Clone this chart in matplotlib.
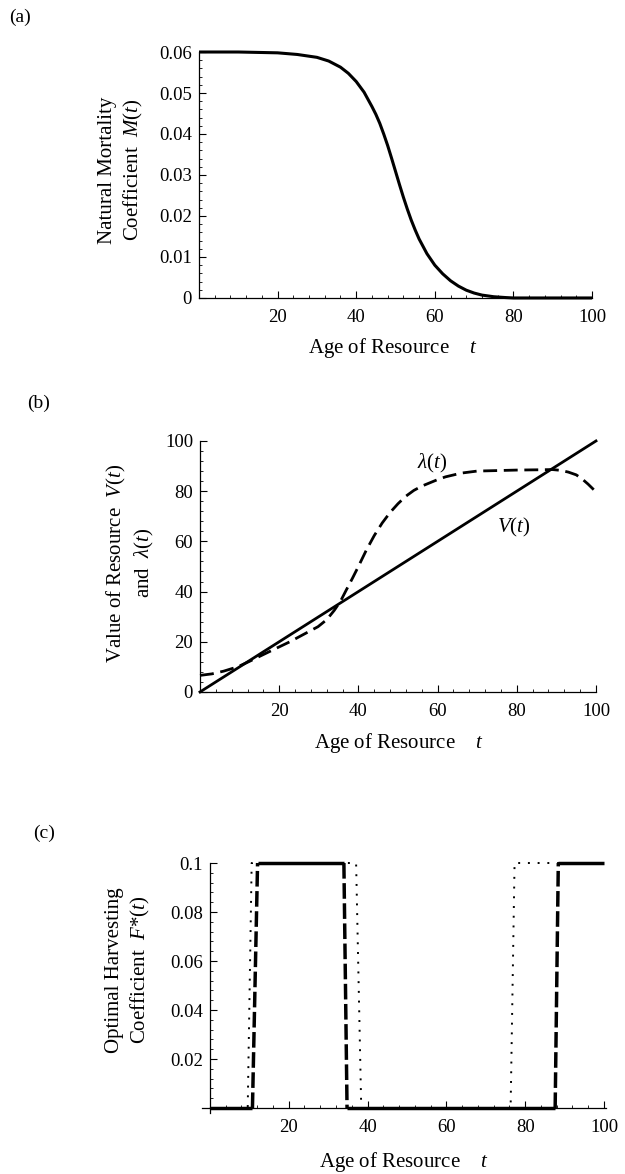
import numpy as np
import matplotlib
matplotlib.use('Agg')
import matplotlib.pyplot as plt
from matplotlib.ticker import MultipleLocator

plt.rcParams['font.family'] = ['Liberation Serif', 'DejaVu Serif']
plt.rcParams['mathtext.fontset'] = 'custom'
plt.rcParams['mathtext.rm'] = 'Liberation Serif'
plt.rcParams['mathtext.it'] = 'Liberation Serif:italic'

# (a) natural mortality M(t)
age_a = [0, 10, 20, 25, 30, 33, 36, 38, 40, 42, 44, 45, 46, 47, 48, 49, 50, 51, 52, 53,
         54, 55, 56, 58, 60, 62, 64, 66, 68, 70, 72, 75, 78, 80, 90, 100]
mort = [0.06, 0.06, 0.0598, 0.0594, 0.0587, 0.0578, 0.0563, 0.0548, 0.0528, 0.0502, 0.0467,
        0.0448, 0.0426, 0.0400, 0.0372, 0.0341, 0.0309, 0.0277, 0.0246, 0.0217,
        0.0190, 0.0166, 0.0144, 0.0108, 0.0080, 0.0059, 0.0042, 0.0029, 0.0019, 0.0012,
        0.0007, 0.0003, 0.0001, 0.0, 0.0, 0.0]

# (b) value V(t) and shadow price lambda(t)
age_v = [0, 100]
value = [0, 100]
age_l = [0, 3, 6, 9.5, 12.5, 15.6, 19, 22.7, 26, 29.8, 32, 33.9, 35.5, 36.9, 38.5, 40, 42,
         44, 46, 48, 50, 52, 54, 56, 58, 60, 62, 66, 70, 75, 80, 85, 89, 91, 93, 95,
         96.4, 98, 100]
lam = [6.6, 7.2, 8.3, 10, 12.2, 14.6, 17.2, 20, 22.8, 26, 28.8, 32.5, 36.2, 40.5, 45.3, 50,
       56.5, 62.3, 67.3, 71.5, 75, 78, 80.3, 82, 83.3, 84.6, 85.7, 87.2, 88, 88.2, 88.4,
       88.5, 88.6, 88.3, 87.6, 86.5, 85, 82.8, 79.7]

# (c) optimal harvesting F*(t), two cases
age_dash = [0, 10.8, 12.1, 34.0, 34.8, 87.6, 88.4, 100]
f_dash = [0, 0, 0.1, 0.1, 0, 0, 0.1, 0.1]
age_dot = [0, 9.6, 10.6, 37.1, 38.4, 76.3, 77.3, 100]
f_dot = [0, 0, 0.1, 0.1, 0, 0, 0.1, 0.1]

x_ticks = [20, 40, 60, 80, 100]
a_yticks = [0, 0.01, 0.02, 0.03, 0.04, 0.05, 0.06]
a_ylabels = ['0', '0.01', '0.02', '0.03', '0.04', '0.05', '0.06']
b_yticks = [0, 20, 40, 60, 80, 100]
c_yticks = [0.02, 0.04, 0.06, 0.08, 0.1]
c_ylabels = ['0.02', '0.04', '0.06', '0.08', '0.1']

FS = 13.5
LFS = 15

fig = plt.figure(figsize=(6.25, 11.74), dpi=100)


def style(ax, ymin_step):
    for s in ['top', 'right']:
        ax.spines[s].set_visible(False)
    for s in ['left', 'bottom']:
        ax.spines[s].set_linewidth(0.9)
    ax.xaxis.set_minor_locator(MultipleLocator(4))
    ax.yaxis.set_minor_locator(MultipleLocator(ymin_step))
    ax.tick_params(which='major', direction='in', length=5, width=0.8, labelsize=FS, pad=5)
    ax.tick_params(which='minor', direction='in', length=2.5, width=0.6)
    ax.tick_params(axis='x', which='major', pad=8)
    ax.set_xticks(x_ticks)
    ax.set_xticklabels([str(v) for v in x_ticks])


# ---- (a)
ax1 = fig.add_axes([0.3184, 0.7462, 0.6288, 0.2095])
ax1.plot(age_a, mort, color='black', lw=2.2, clip_on=False, solid_capstyle='butt')
ax1.set_xlim(0, 100)
ax1.set_ylim(0, 0.06)
style(ax1, 0.002)
ax1.set_yticks(a_yticks)
ax1.set_yticklabels(a_ylabels)

# ---- (b)
ax2 = fig.add_axes([0.32, 0.4106, 0.6336, 0.2138])
ax2.plot(age_v, value, color='black', lw=2.0, clip_on=False)
ax2.plot(age_l, lam, color='black', lw=2.0, linestyle=(0, (5, 2.4)), clip_on=False)
ax2.set_xlim(0, 100)
ax2.set_ylim(0, 100)
style(ax2, 4)
ax2.set_yticks(b_yticks)
ax2.set_yticklabels([str(v) for v in b_yticks])
ax2.text(58.6, 91, r'$\lambda(t)$', fontsize=LFS, ha='center', va='center')
ax2.text(79.3, 65.7, r'$V(t)$', fontsize=LFS, ha='center', va='center')

# ---- (c)
ax3 = fig.add_axes([0.3232, 0.052, 0.6464, 0.2129])
ad = np.array(age_dash)
fd = np.array(f_dash)
for i in range(len(ad) - 1):
    flat = fd[i] == fd[i + 1]
    ax3.plot(ad[i:i + 2], fd[i:i + 2], color='black', lw=2.5,
             linestyle='-' if flat else (0, (4.5, 1.3)), clip_on=False,
             solid_capstyle='butt', zorder=3)
ax3.plot(age_dot, f_dot, color='black', lw=1.4, linestyle=(0, (1, 4)), clip_on=False, zorder=4)
ax3.set_xlim(-2, 100.5)
ax3.set_ylim(-0.002, 0.1)
ax3.spines['left'].set_position(('data', 0))
ax3.spines['bottom'].set_position(('data', 0))
style(ax3, 0.004)
ax3.set_yticks(c_yticks)
ax3.set_yticklabels(c_ylabels)

# axis titles
fig.text(0.195, 0.855, 'Natural Mortality\nCoefficient  $M(t)$', rotation=90,
         ha='center', va='center', fontsize=LFS, linespacing=1.3)
fig.text(0.209, 0.5204, 'Value of Resource  $V(t)$\nand  $\\lambda(t)$', rotation=90,
         ha='center', va='center', fontsize=LFS, linespacing=1.3)
fig.text(0.205, 0.1738, 'Optimal Harvesting\nCoefficient  $F$*$(t)$', rotation=90,
         ha='center', va='center', fontsize=LFS, linespacing=1.3)

for xc, yc in [(0.629, 0.7036), (0.638, 0.367), (0.646, 0.0105)]:
    fig.text(xc, yc, 'Age of Resource    $t$', ha='center', va='center', fontsize=LFS)

fig.text(0.032, 0.9855, '(a)', ha='center', va='center', fontsize=FS + 0.5)
fig.text(0.061, 0.6567, '(b)', ha='center', va='center', fontsize=FS + 0.5)
fig.text(0.070, 0.2905, '(c)', ha='center', va='center', fontsize=FS + 0.5)

fig.savefig('out.png', dpi=100)
